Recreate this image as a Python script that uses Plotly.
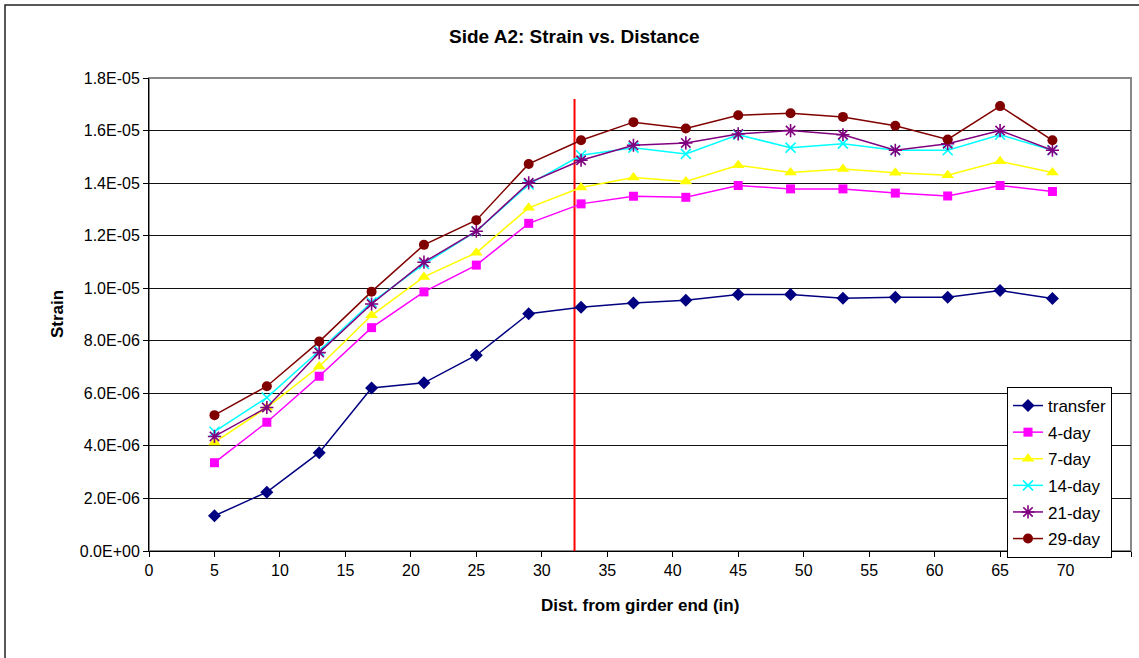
import plotly.graph_objects as go

# Distance from girder end (in)
distance = [5, 9, 13, 17, 21, 25, 29, 33, 37, 41, 45, 49, 53, 57, 61, 65, 69]

# Measured strain for each age
strain_transfer = [1.34e-6, 2.24e-6, 3.74e-6, 6.20e-6, 6.40e-6, 7.45e-6, 9.03e-6, 9.28e-6, 9.44e-6,
                   9.54e-6, 9.76e-6, 9.76e-6, 9.62e-6, 9.66e-6, 9.66e-6, 9.91e-6, 9.61e-6]
strain_4day = [3.36e-6, 4.90e-6, 6.65e-6, 8.50e-6, 9.86e-6, 10.88e-6, 12.47e-6, 13.21e-6, 13.50e-6,
               13.46e-6, 13.91e-6, 13.78e-6, 13.78e-6, 13.62e-6, 13.51e-6, 13.91e-6, 13.68e-6]
strain_7day = [4.13e-6, 5.46e-6, 7.02e-6, 8.97e-6, 10.43e-6, 11.35e-6, 13.06e-6, 13.83e-6, 14.21e-6,
               14.06e-6, 14.68e-6, 14.40e-6, 14.54e-6, 14.39e-6, 14.30e-6, 14.83e-6, 14.40e-6]
strain_14day = [4.54e-6, 5.84e-6, 7.62e-6, 9.46e-6, 10.92e-6, 12.17e-6, 13.95e-6, 15.06e-6, 15.35e-6,
                15.11e-6, 15.84e-6, 15.35e-6, 15.50e-6, 15.25e-6, 15.25e-6, 15.84e-6, 15.25e-6]
strain_21day = [4.36e-6, 5.46e-6, 7.55e-6, 9.40e-6, 10.99e-6, 12.17e-6, 14.01e-6, 14.87e-6, 15.44e-6,
                15.53e-6, 15.87e-6, 16.00e-6, 15.84e-6, 15.25e-6, 15.50e-6, 16.00e-6, 15.25e-6]
strain_29day = [5.17e-6, 6.27e-6, 7.97e-6, 9.87e-6, 11.65e-6, 12.59e-6, 14.73e-6, 15.63e-6, 16.32e-6,
                16.08e-6, 16.58e-6, 16.66e-6, 16.52e-6, 16.18e-6, 15.66e-6, 16.93e-6, 15.63e-6]

series_names = ["transfer", "4-day", "7-day", "14-day", "21-day", "29-day"]
series_values = [strain_transfer, strain_4day, strain_7day, strain_14day, strain_21day, strain_29day]

# Transfer-length marker
marker_line_x = 32.5
marker_line_top = 1.72e-5

# Axis ticks
x_ticks = list(range(0, 80, 5))
y_tickvals = [0, 2e-6, 4e-6, 6e-6, 8e-6, 10e-6, 12e-6, 14e-6, 16e-6, 18e-6]
y_ticktext = ["0.0E+00", "2.0E-06", "4.0E-06", "6.0E-06", "8.0E-06",
              "1.0E-05", "1.2E-05", "1.4E-05", "1.6E-05", "1.8E-05"]

FONT = "Arial, Liberation Sans, sans-serif"

W, H = 1139, 658
L, R, T, B = 149, 8, 78, 107
plot_w = W - L - R
plot_h = H - T - B


def px(x):
    return (x - L) / plot_w


def py(y):
    return (H - B - y) / plot_h


styles = [
    dict(color="#000080", symbol="diamond", size=10, line=dict(width=0)),
    dict(color="#FF00FF", symbol="square", size=9, line=dict(width=0)),
    dict(color="#FFFF00", symbol="triangle-up", size=11, line=dict(width=0)),
    dict(color="#00FFFF", symbol="x-thin-open", size=10, line=dict(width=1.6, color="#00FFFF")),
    dict(color="#800080", symbol="asterisk-open", size=11, line=dict(width=1.6, color="#800080")),
    dict(color="#800000", symbol="circle", size=10, line=dict(width=0)),
]

fig = go.Figure()

fig.add_trace(go.Scatter(
    x=[marker_line_x, marker_line_x], y=[0, marker_line_top],
    mode="lines", line=dict(color="#FF0000", width=2),
    showlegend=False, hoverinfo="skip",
))

for i, (name, vals, st) in enumerate(zip(series_names, series_values, styles)):
    fig.add_trace(go.Scatter(
        x=distance, y=vals, name=name, mode="lines+markers",
        line=dict(color=st["color"], width=1.5),
        marker=st, legendgroup=f"g{i}",
    ))

# outer chart frame
fig.add_shape(type="rect", xref="paper", yref="paper",
              x0=px(5), x1=px(1140), y0=py(700), y1=py(5),
              line=dict(color="#222222", width=1.5), layer="below")
# plot-area border
fig.add_shape(type="rect", xref="paper", yref="paper",
              x0=0, x1=1, y0=0, y1=1,
              line=dict(color="#888888", width=2), layer="below")

fig.update_layout(
    width=W, height=H,
    margin=dict(l=L, r=R, t=T, b=B),
    paper_bgcolor="white", plot_bgcolor="white",
    font=dict(family=FONT, size=16, color="black"),
    showlegend=True,
    legend=dict(
        x=px(1007), y=py(387), xanchor="left", yanchor="top",
        bgcolor="white", bordercolor="black", borderwidth=1,
        font=dict(family=FONT, size=17, color="black"),
        tracegroupgap=1.5,
    ),
    xaxis=dict(
        range=[0, 75], tickvals=x_ticks, ticks="outside", ticklen=5,
        tickcolor="black", showline=True, linecolor="black", linewidth=1,
        showgrid=False, zeroline=False, tickfont=dict(size=16),
    ),
    yaxis=dict(
        range=[0, 1.8e-5], tickvals=y_tickvals, ticktext=y_ticktext,
        ticks="outside", ticklen=5, tickcolor="black",
        showline=True, linecolor="black", linewidth=1,
        showgrid=True, gridcolor="#111111", gridwidth=1, zeroline=False,
        tickfont=dict(size=16),
    ),
    annotations=[
        dict(text="<b>Side A2: Strain vs. Distance</b>", x=px(574), y=py(37),
             xanchor="center", yanchor="middle",
             xref="paper", yref="paper", showarrow=False,
             font=dict(size=19, family=FONT)),
        dict(text="<b>Dist. from girder end (in)</b>", x=0.5, y=py(605),
             xanchor="center", yanchor="middle",
             xref="paper", yref="paper", showarrow=False,
             font=dict(size=17, family=FONT)),
        dict(text="<b>Strain</b>", x=px(57), y=py(314), textangle=-90,
             xanchor="center", yanchor="middle",
             xref="paper", yref="paper", showarrow=False,
             font=dict(size=17, family=FONT)),
    ],
)

fig.write_html("out.html")
